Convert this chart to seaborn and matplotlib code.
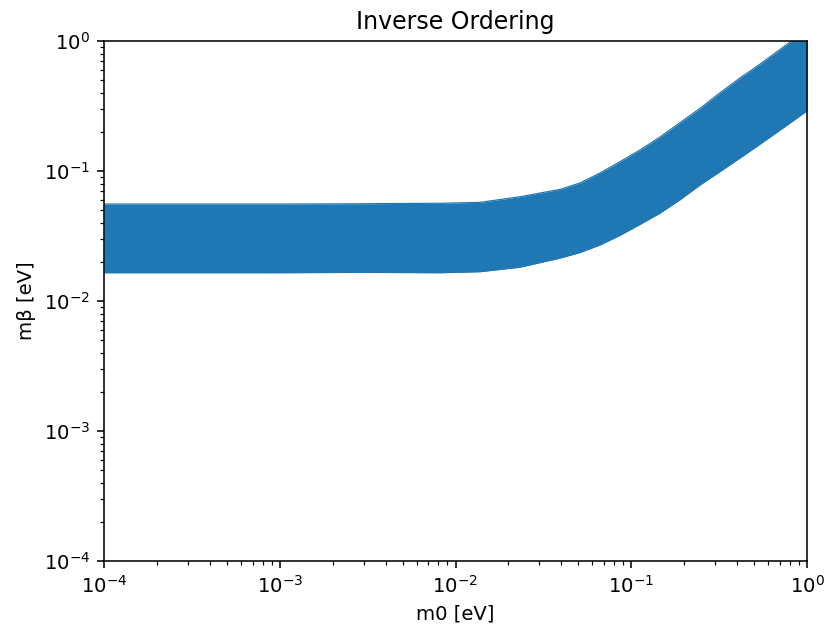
#---------------------------------------------------------------
# Inverse ordering band: m_beta vs lightest mass m0 (log-log)
#---------------------------------------------------------------
import matplotlib
matplotlib.use('Agg')
import matplotlib.pyplot as plt
import numpy as np
import seaborn as sns

# band edges
m0 = [1e-4, 1e-3, 3e-3, 0.0082, 0.0138, 0.0233, 0.0394, 0.0511, 0.0664,
      0.0863, 0.112, 0.146, 0.189, 0.246, 0.320, 0.416, 0.541, 0.80, 1.0]
m_upper = [0.0557, 0.0557, 0.0560, 0.0565, 0.0574, 0.0634, 0.0723, 0.0809, 0.0966,
           0.118, 0.145, 0.183, 0.235, 0.303, 0.400, 0.520, 0.665, 0.980, 1.22]
m_lower = [0.0165, 0.0165, 0.0166, 0.0165, 0.0168, 0.0182, 0.0214, 0.0236, 0.0270,
           0.0320, 0.0388, 0.0475, 0.0600, 0.0780, 0.0990, 0.126, 0.161, 0.234, 0.290]

title = 'Inverse Ordering'
xlabel = 'm0 [eV]'
ylabel = 'mβ [eV]'


#---------------------------------------------------------------
def main():
    color = '#1f77b4'
    dpi = 141.7
    fig = plt.figure(figsize = (827 / dpi, 634 / dpi), dpi = dpi)
    ax = fig.add_axes([104 / 827, 1 - 561 / 634, 703 / 827, 520 / 634])

    sns.lineplot(x = m0, y = m_upper, ax = ax, color = color, linewidth = 0.6)
    sns.lineplot(x = m0, y = m_lower, ax = ax, color = color, linewidth = 0.6)
    ax.fill_between(m0, m_lower, m_upper, color = color, linewidth = 0)

    ax.set_xscale('log')
    ax.set_yscale('log')
    ax.set_xlim(1e-4, 1)
    ax.set_ylim(1e-4, 1)
    ax.set_title(title)
    ax.set_xlabel(xlabel)
    ax.set_ylabel(ylabel)

    fig.savefig('out.png', dpi = dpi)


#---------------------------------------------------------------
if __name__ == '__main__':
    main()
